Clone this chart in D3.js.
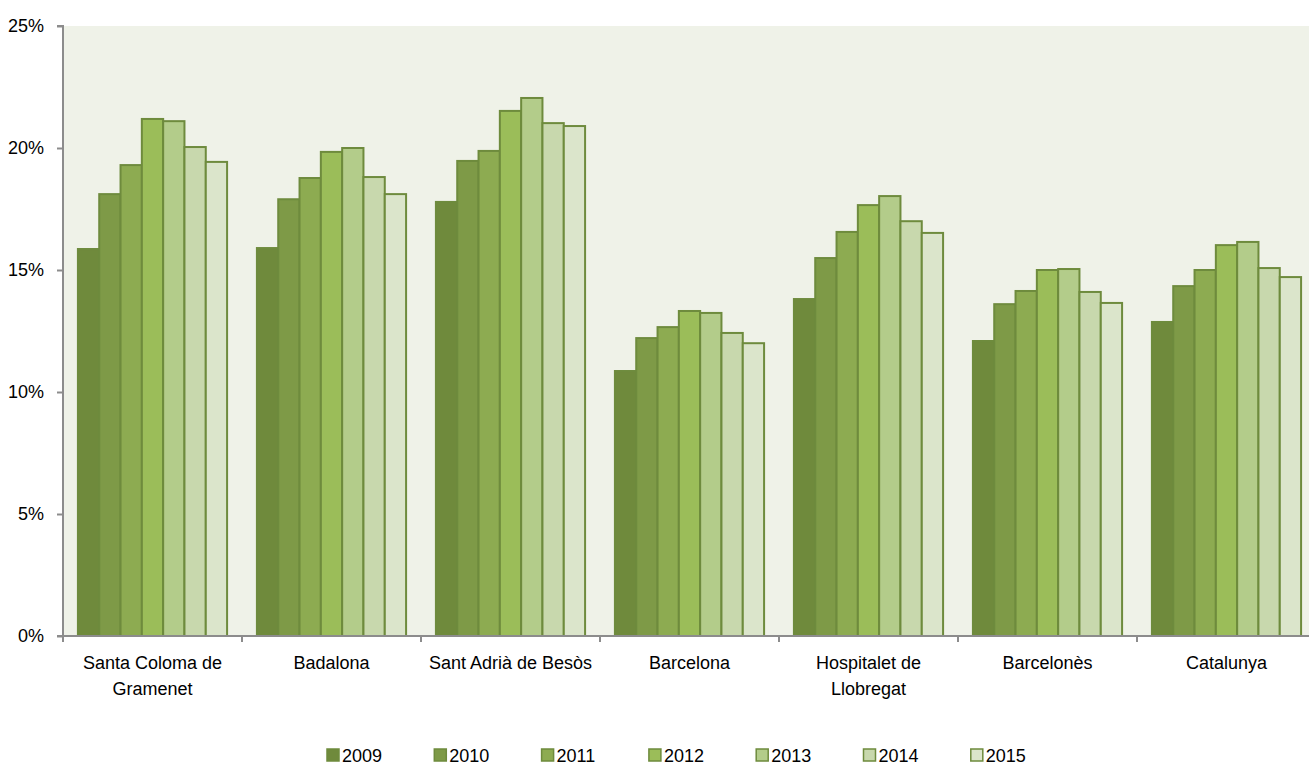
<!DOCTYPE html>
<html><head><meta charset="utf-8">
<script src="https://cdn.jsdelivr.net/npm/d3@7"></script>
<style>
body{margin:0;background:#fff;}
text{font-family:"Liberation Sans",Arial,sans-serif;fill:#000;}
</style></head>
<body>
<svg id="c" width="1309" height="765"></svg>
<script>
const categories = [["Santa Coloma de","Gramenet"],["Badalona"],["Sant Adrià de Besòs"],["Barcelona"],["Hospitalet de","Llobregat"],["Barcelonès"],["Catalunya"]];
const years = ["2009","2010","2011","2012","2013","2014","2015"];
const v2009 = [15.86,15.9,17.79,10.86,13.81,12.09,12.87];
const v2010 = [18.11,17.9,19.47,12.21,15.49,13.6,14.34];
const v2011 = [19.3,18.77,19.88,12.66,16.56,14.14,15.0];
const v2012 = [21.19,19.84,21.52,13.32,17.66,15.0,16.02];
const v2013 = [21.1,20.0,22.05,13.24,18.03,15.04,16.15];
const v2014 = [20.04,18.81,21.02,12.42,17.0,14.1,15.08];
const v2015 = [19.43,18.11,20.9,12.0,16.52,13.65,14.71];
const yTicks = [0,5,10,15,20,25];
const colors = ["#6f8a3c","#7e9a47","#8dab51","#9bbd59","#b3cc8a","#c8d8ad","#dbe5cb"];
const series = [v2009,v2010,v2011,v2012,v2013,v2014,v2015];

const svg = d3.select("#c");
const L=63, R=1316, T=26, B=636;
svg.append("rect").attr("x",L).attr("y",T).attr("width",R-L).attr("height",B-T).attr("fill","#eff2e8");
const x0 = d3.scaleBand().domain(d3.range(categories.length)).range([L,R]).paddingInner(0).paddingOuter(0);
const x1 = d3.scaleBand().domain(d3.range(years.length)).range([0,x0.bandwidth()]).paddingOuter(0.7).paddingInner(0);
const y = d3.scaleLinear().domain([0,25]).range([B,T]);

const g = svg.append("g");
series.forEach((s,si)=>{
  g.selectAll(null).data(s).enter().append("rect")
    .attr("x",(d,i)=>x0(i)+x1(si))
    .attr("y",d=>y(d))
    .attr("width",x1.bandwidth())
    .attr("height",d=>B-y(d))
    .attr("fill",colors[si]).attr("stroke","#6e8b3d").attr("stroke-width",2);
});

// y axis
const ya = svg.append("g").attr("transform",`translate(${L},0)`).call(d3.axisLeft(y).tickValues(yTicks).tickSize(6).tickFormat(d=>d+"%"));
ya.select(".domain").attr("stroke","#8c8c8c").attr("stroke-width",2).attr("d",`M-6,${T}H0V${B}H-6`);
ya.selectAll(".tick line").attr("stroke","#8c8c8c").attr("stroke-width",2);
ya.selectAll(".tick text").attr("x",-19).attr("font-size",18).style("font-family",null);

// x axis
const xa = svg.append("g");
xa.append("line").attr("x1",L).attr("x2",R).attr("y1",B).attr("y2",B).attr("stroke","#8c8c8c").attr("stroke-width",2);
d3.range(categories.length+1).forEach(i=>{
  const xx = L + i*x0.bandwidth();
  xa.append("line").attr("x1",xx).attr("x2",xx).attr("y1",B).attr("y2",B+6).attr("stroke","#8c8c8c").attr("stroke-width",2);
});
categories.forEach((c,i)=>{
  const t = xa.append("text").attr("text-anchor","middle").attr("font-size",18)
    .attr("x",x0(i)+x0.bandwidth()/2).attr("y",669);
  c.forEach((line,li)=>t.append("tspan").attr("x",x0(i)+x0.bandwidth()/2).attr("dy",li?26:0).text(line));
});

// legend
const lg = svg.append("g");
years.forEach((yr,i)=>{
  const lx = 327 + i*107.3;
  lg.append("rect").attr("x",lx).attr("y",749).attr("width",12).attr("height",12).attr("fill",colors[i]).attr("stroke","#6e8b3d").attr("stroke-width",1.5);
  lg.append("text").attr("x",lx+15).attr("y",762).attr("font-size",18).text(yr);
});
</script>
</body></html>
